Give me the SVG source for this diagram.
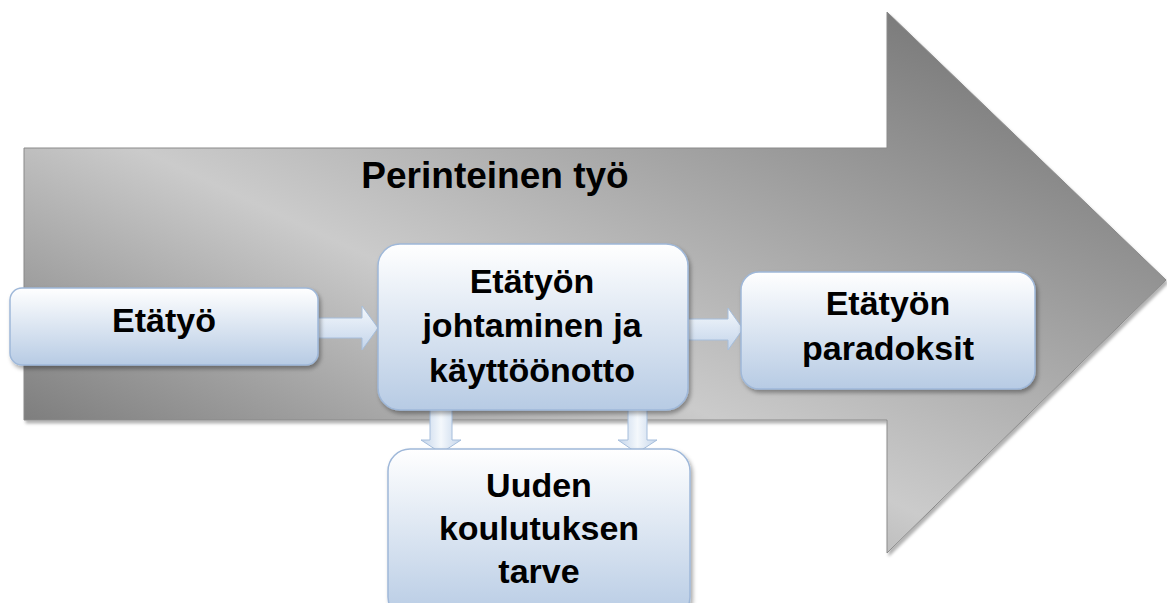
<svg xmlns="http://www.w3.org/2000/svg" width="1167" height="603" viewBox="0 0 1167 603">
<style>
.lbl{font-family:"Liberation Sans",Arial,sans-serif;font-weight:bold;font-size:34px;fill:#000;text-anchor:middle}
.box{fill:url(#boxg);stroke:#9fb8d9;stroke-width:1.5;filter:url(#sh)}
.conn{fill:url(#arrg);stroke:#a6bedc;stroke-width:1}
</style>
<defs>
<linearGradient id="bigg" gradientUnits="userSpaceOnUse" x1="887" y1="12" x2="575" y2="678">
<stop offset="0" stop-color="#7c7c7c"/>
<stop offset="0.6" stop-color="#cbcbcb"/>
<stop offset="1" stop-color="#7e7e7e"/>
</linearGradient>
<linearGradient id="boxg" x1="0" y1="0" x2="0" y2="1">
<stop offset="0" stop-color="#ffffff"/>
<stop offset="1" stop-color="#b7cbe4"/>
</linearGradient>
<linearGradient id="arrg" x1="0" y1="0" x2="0" y2="1">
<stop offset="0" stop-color="#f4f8fc"/>
<stop offset="1" stop-color="#c3d4ea"/>
</linearGradient>
<linearGradient id="arrgv" x1="0" y1="0" x2="1" y2="0">
<stop offset="0" stop-color="#c3d4ea"/>
<stop offset="0.5" stop-color="#f4f8fc"/>
<stop offset="1" stop-color="#c3d4ea"/>
</linearGradient>
<filter id="sh" x="-10%" y="-10%" width="130%" height="130%">
<feDropShadow dx="2" dy="3" stdDeviation="2" flood-color="#000" flood-opacity="0.35"/>
</filter>
<filter id="shb" x="-5%" y="-5%" width="110%" height="110%">
<feDropShadow dx="2" dy="3" stdDeviation="1.5" flood-color="#000" flood-opacity="0.3"/>
</filter>
</defs>

<g id="big-arrow">
<path d="M24,148 L887,148 L887,12 L1166,280 L887,553 L887,420 L24,420 Z" fill="url(#bigg)" stroke="#8a8a8a" stroke-width="1" filter="url(#shb)"/>
<text x="495" y="188" class="lbl" style="font-size:37px">Perinteinen työ</text>
</g>

<g id="connectors">
<path class="conn" d="M318,318 L362,318 L362,306 L378,328 L362,350 L362,338 L318,338 Z"/>
<path class="conn" d="M688,319 L728,319 L728,308 L743,329 L728,350 L728,340 L688,340 Z"/>
<path class="conn" style="fill:url(#arrgv)" d="M430,408 L452,408 L452,440 L461,440 L441,453 L421,440 L430,440 Z"/>
<path class="conn" style="fill:url(#arrgv)" d="M628,408 L647,408 L647,440 L657,440 L637,453 L618,440 L628,440 Z"/>
</g>

<g id="node-etatyo">
<rect class="box" x="10" y="288" width="308" height="77" rx="12"/>
<text x="164" y="332" class="lbl">Etätyö</text>
</g>

<g id="node-johtaminen">
<rect class="box" x="378" y="244" width="310" height="166" rx="22"/>
<text x="532" y="293" class="lbl">Etätyön</text>
<text x="532" y="337" class="lbl">johtaminen ja</text>
<text x="532" y="382" class="lbl">käyttöönotto</text>
</g>

<g id="node-paradoksit">
<rect class="box" x="741" y="272" width="294" height="117" rx="18"/>
<text x="888" y="315" class="lbl">Etätyön</text>
<text x="888" y="360" class="lbl">paradoksit</text>
</g>

<g id="node-koulutus">
<rect class="box" x="388" y="449" width="302" height="170" rx="22"/>
<text x="539" y="497" class="lbl">Uuden</text>
<text x="539" y="540" class="lbl">koulutuksen</text>
<text x="539" y="583" class="lbl">tarve</text>
</g>
</svg>
